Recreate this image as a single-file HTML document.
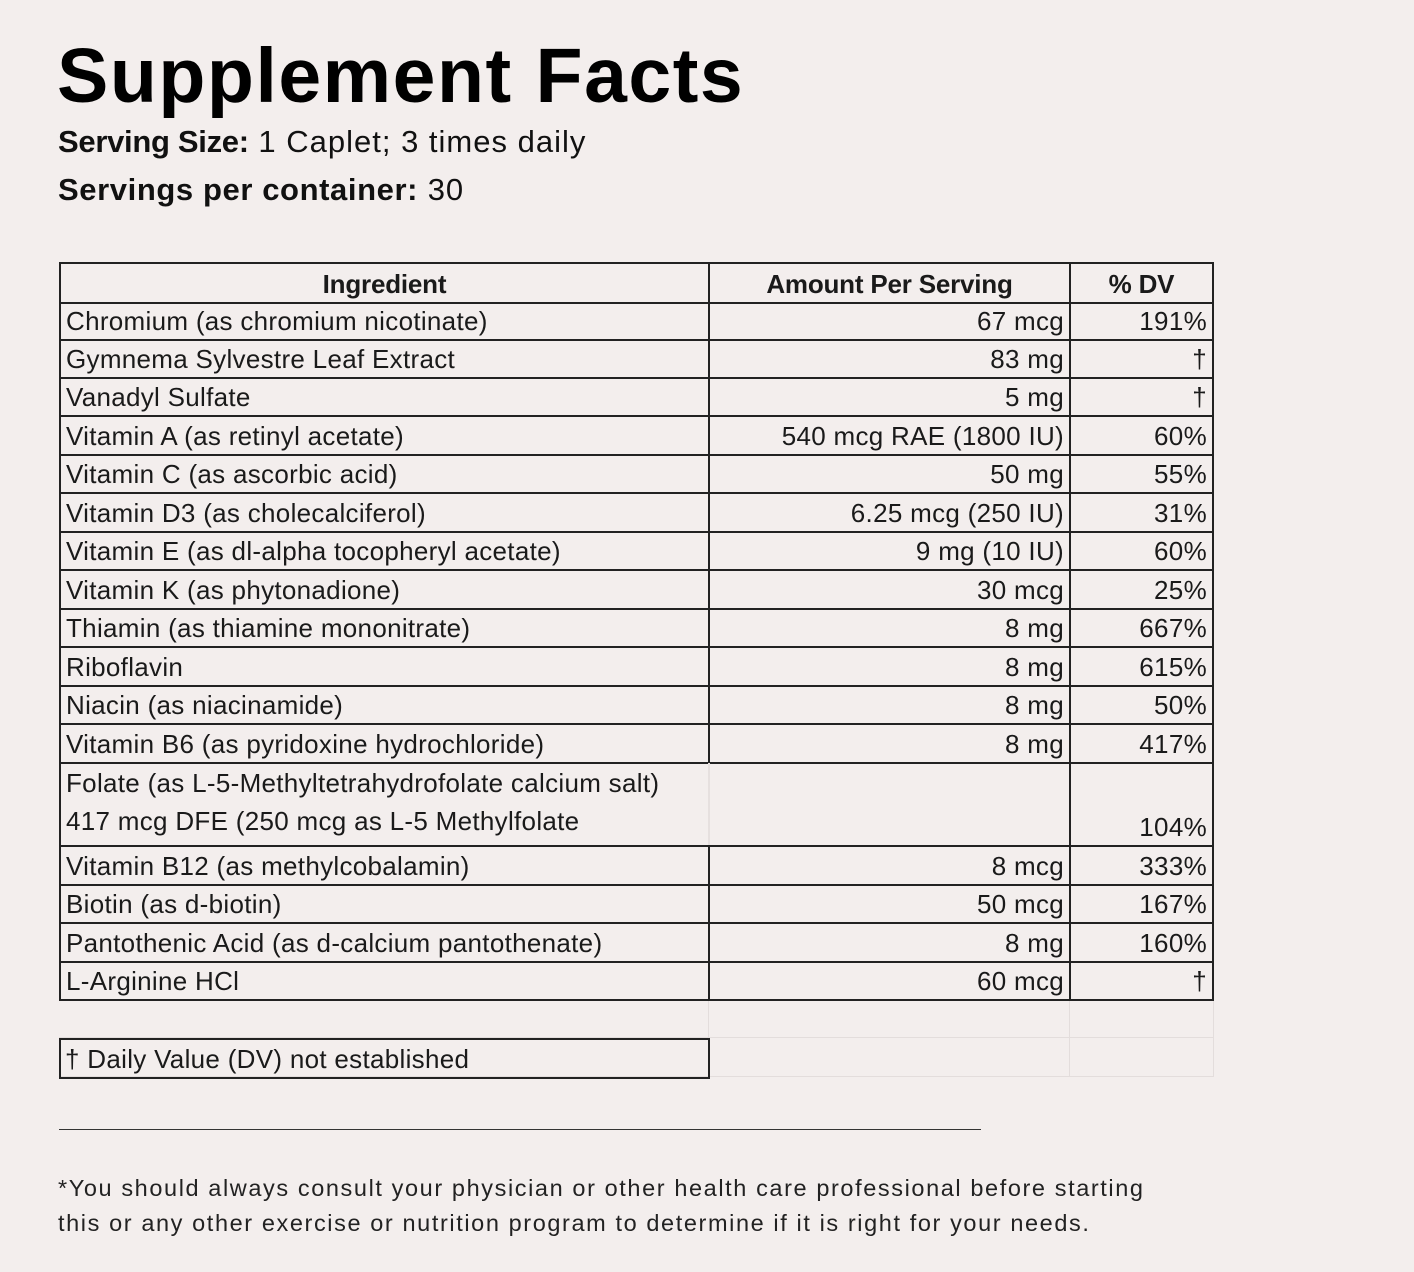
<!DOCTYPE html>
<html><head><style>
body{margin:0;width:1414px;height:1272px;background:#f3eeed;position:relative;overflow:hidden;font-family:"Liberation Sans",sans-serif;color:#111}
.a{position:absolute;white-space:nowrap}
.r{position:absolute;left:59px;width:1155px;font-family:"Liberation Sans Narrow","Liberation Sans",sans-serif;font-size:26px;letter-spacing:0.3px;color:#1a1a1a}
.c{position:absolute;top:0;bottom:0;box-sizing:border-box;padding:2px 5px 0;display:flex;align-items:center}
.c1{left:0;width:649px;border-left:2px solid #222}
.c2{left:649px;width:361px;border-left:2px solid #222;justify-content:flex-end}
.c3{left:1010px;width:145px;border-left:2px solid #222;border-right:2px solid #222;justify-content:flex-end}
.b{border-bottom:2px solid #222}
</style></head><body>
<div class="a" style="left:57px;top:32px;font-size:77px;font-weight:bold;letter-spacing:1.5px;color:#000">Supplement Facts</div>
<div class="a" style="left:58px;top:124px;font-size:31px;letter-spacing:1px"><b style="letter-spacing:-0.3px">Serving Size:</b> 1 Caplet; 3 times daily</div>
<div class="a" style="left:58px;top:172px;font-size:31px;letter-spacing:1px"><b style="letter-spacing:0.6px">Servings per container:</b> 30</div>

<div class="r b" style="top:262px;height:38px;border-top:2px solid #222;font-weight:bold;letter-spacing:-0.2px">
<div class="c c1" style="justify-content:center">Ingredient</div><div class="c c2" style="justify-content:center">Amount Per Serving</div><div class="c c3" style="justify-content:center">% DV</div></div>
<div class="r b" style="top:302px;height:37px"><div class="c c1">Chromium (as chromium nicotinate)</div><div class="c c2">67 mcg</div><div class="c c3">191%</div></div>
<div class="r b" style="top:340px;height:37px"><div class="c c1">Gymnema Sylvestre Leaf Extract</div><div class="c c2">83 mg</div><div class="c c3">†</div></div>
<div class="r b" style="top:378px;height:37px"><div class="c c1">Vanadyl Sulfate</div><div class="c c2">5 mg</div><div class="c c3">†</div></div>
<div class="r b" style="top:417px;height:37px"><div class="c c1">Vitamin A (as retinyl acetate)</div><div class="c c2">540 mcg RAE (1800 IU)</div><div class="c c3">60%</div></div>
<div class="r b" style="top:455px;height:37px"><div class="c c1">Vitamin C (as ascorbic acid)</div><div class="c c2">50 mg</div><div class="c c3">55%</div></div>
<div class="r b" style="top:494px;height:37px"><div class="c c1">Vitamin D3 (as cholecalciferol)</div><div class="c c2">6.25 mcg (250 IU)</div><div class="c c3">31%</div></div>
<div class="r b" style="top:532px;height:37px"><div class="c c1">Vitamin E (as dl-alpha tocopheryl acetate)</div><div class="c c2">9 mg (10 IU)</div><div class="c c3">60%</div></div>
<div class="r b" style="top:571px;height:37px"><div class="c c1">Vitamin K (as phytonadione)</div><div class="c c2">30 mcg</div><div class="c c3">25%</div></div>
<div class="r b" style="top:609px;height:37px"><div class="c c1">Thiamin (as thiamine mononitrate)</div><div class="c c2">8 mg</div><div class="c c3">667%</div></div>
<div class="r b" style="top:648px;height:37px"><div class="c c1">Riboflavin</div><div class="c c2">8 mg</div><div class="c c3">615%</div></div>
<div class="r b" style="top:686px;height:37px"><div class="c c1">Niacin (as niacinamide)</div><div class="c c2">8 mg</div><div class="c c3">50%</div></div>
<div class="r b" style="top:725px;height:37px"><div class="c c1">Vitamin B6 (as pyridoxine hydrochloride)</div><div class="c c2">8 mg</div><div class="c c3">417%</div></div>
<div class="r b" style="top:763px;height:82px">
<div class="c c1" style="display:block;line-height:38px;padding-top:1px">Folate (as L-5-Methyltetrahydrofolate calcium salt)<br>417 mcg DFE (250 mcg as L-5 Methylfolate</div>
<div class="c c2" style="border-left:2px solid #e6e0df"></div>
<div class="c c3" style="align-items:flex-end;padding-bottom:2px">104%</div></div>
<div class="r b" style="top:847px;height:37px"><div class="c c1">Vitamin B12 (as methylcobalamin)</div><div class="c c2">8 mcg</div><div class="c c3">333%</div></div>
<div class="r b" style="top:885px;height:37px"><div class="c c1">Biotin (as d-biotin)</div><div class="c c2">50 mcg</div><div class="c c3">167%</div></div>
<div class="r b" style="top:924px;height:37px"><div class="c c1">Pantothenic Acid (as d-calcium pantothenate)</div><div class="c c2">8 mg</div><div class="c c3">160%</div></div>
<div class="r b" style="top:962px;height:37px"><div class="c c1">L-Arginine HCl</div><div class="c c2">60 mcg</div><div class="c c3">†</div></div>
<div style="position:absolute;left:708px;top:1001px;width:1px;height:76px;background:#e3dddc"></div>
<div style="position:absolute;left:1069px;top:1001px;width:1px;height:76px;background:#e3dddc"></div>
<div style="position:absolute;left:1213px;top:1001px;width:1px;height:76px;background:#e3dddc"></div>
<div style="position:absolute;left:59px;top:1037px;width:1155px;height:1px;background:#e3dddc"></div>
<div style="position:absolute;left:59px;top:1076px;width:1155px;height:1px;background:#e3dddc"></div>
<div class="r" style="top:1038px;height:37px;border:2px solid #222;box-sizing:content-box;width:647px"><div class="c" style="left:0;padding-left:4px">† Daily Value (DV) not established</div></div>

<div style="position:absolute;left:59px;top:1129px;width:922px;height:1px;background:#333"></div>
<div class="a" style="left:58px;top:1171px;font-size:23.5px;line-height:35px;letter-spacing:1.6px;color:#222">*You should always consult your physician or other health care professional before starting<br>this or any other exercise or nutrition program to determine if it is right for your needs.</div>
</body></html>
